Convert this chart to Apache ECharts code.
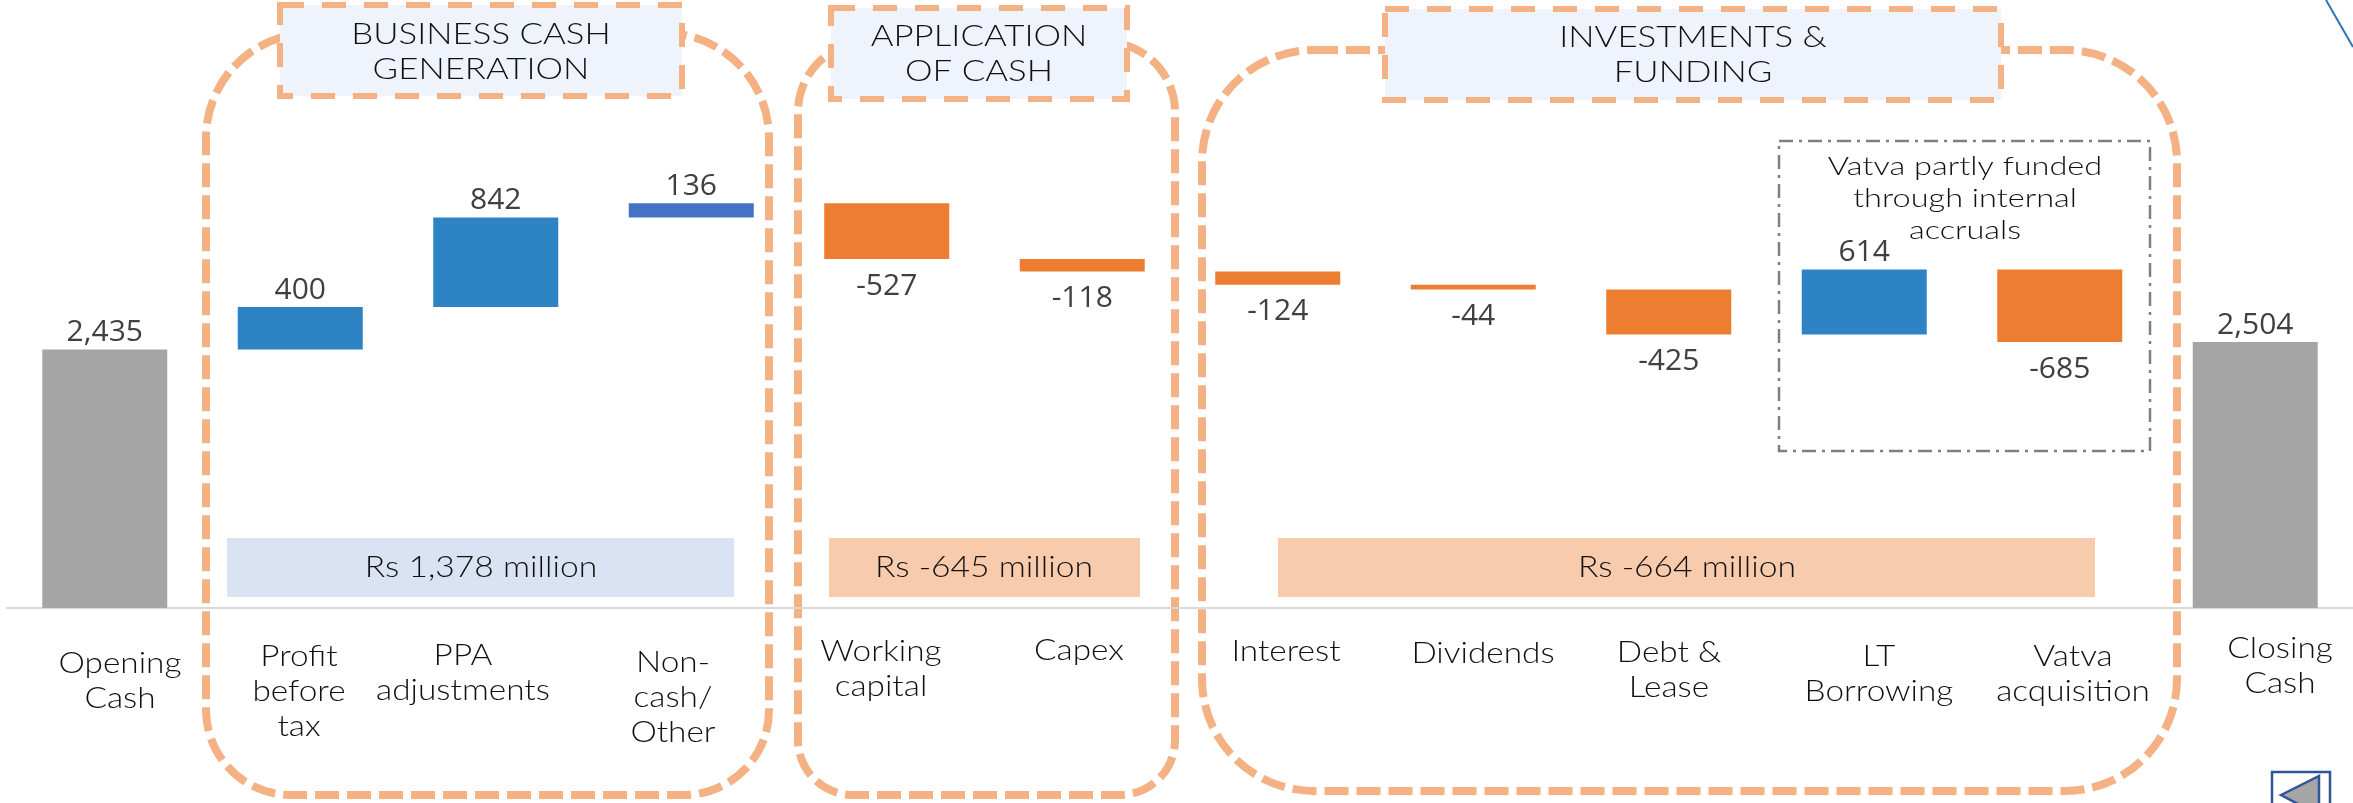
<!DOCTYPE html>
<html>
<head>
<meta charset="utf-8">
<style>
html, body { margin: 0; padding: 0; background: #fff; }
#main { width: 2353px; height: 803px; }
</style>
<script src="https://cdn.jsdelivr.net/npm/echarts@6/dist/echarts.min.js"></script>
</head>
<body>
<div id="main"></div>
<script>
var categories = ['Opening Cash', 'Profit before tax', 'PPA adjustments', 'Non-cash/ Other', 'Working capital', 'Capex',
    'Interest', 'Dividends', 'Debt & Lease', 'LT Borrowing', 'Vatva acquisition', 'Closing Cash'];
var hiddenBase = [0, 2435, 2835, 3677, 3286, 3168, 3044, 3000, 2575, 2575, 2504, 0];
var totals = [2435, null, null, null, null, null, null, null, null, null, null, 2504];
var increases = [null, 400, 842, null, null, null, null, null, null, 614, null, null];
var otherIncreases = [null, null, null, 136, null, null, null, null, null, null, null, null];
var decreases = [null, null, null, null, 527, 118, 124, 44, 425, null, 685, null];

var groupTitles = ['BUSINESS CASH\nGENERATION', 'APPLICATION\nOF CASH', 'INVESTMENTS &\nFUNDING'];
var groupTotals = ['Rs 1,378 million', 'Rs -645 million', 'Rs -664 million'];
var vatvaNote = 'Vatva partly funded\nthrough internal\naccruals';

var catLines = ['Opening\nCash', 'Profit\nbefore\ntax', 'PPA\nadjustments', 'Non-\ncash/\nOther', 'Working\ncapital', 'Capex',
    'Interest', 'Dividends', 'Debt &\nLease', 'LT\nBorrowing', 'Vatva\nacquisition', 'Closing\nCash'];

var textFont = 'Lato';
var numFont = '"Open Sans"';
var orange = '#f4b183';

// the category captions sit off their bars in the original, so they are placed by hand
var catPos = [[120, 681], [299, 692], [463, 673], [673, 698], [881, 669], [1079, 651],
    [1286, 652], [1483, 654], [1669, 670], [1879, 674], [2073, 674], [2280, 666]];

function dashBox(x, y, w, h, r) {
    return {
        type: 'rect',
        shape: { x: x, y: y, width: w, height: h, r: r },
        style: { fill: 'none', stroke: orange, lineWidth: 8, lineDash: [24, 8] }
    };
}

function titleBox(x, y, w, h) {
    return {
        type: 'rect',
        shape: { x: x, y: y, width: w, height: h },
        style: { fill: '#eff3fb', stroke: orange, lineWidth: 6, lineDash: [24, 18] }
    };
}

function band(x, y, w, h, color) {
    return { type: 'rect', shape: { x: x, y: y, width: w, height: h }, style: { fill: color } };
}

// the slide font is wider than anything installed, hence the horizontal stretch
function label(text, x, y, size, lh, stretch) {
    return {
        type: 'text',
        x: x,
        y: y,
        scaleX: stretch,
        style: {
            text: text,
            fill: '#111',
            font: '300 ' + size + 'px ' + textFont,
            lineHeight: lh,
            align: 'center',
            verticalAlign: 'middle'
        }
    };
}

var elements = [
    dashBox(206, 33, 563, 762, [105, 105, 85, 85]),
    dashBox(798, 42, 377, 753, [70, 70, 55, 55]),
    dashBox(1202, 50, 975, 741, 112),
    titleBox(280, 5, 402, 91),
    titleBox(831, 8, 296, 91),
    titleBox(1385, 9, 616, 91),
    label(groupTitles[0], 481, 52, 29, 35, 1.2),
    label(groupTitles[1], 979, 54, 29, 35, 1.2),
    label(groupTitles[2], 1693, 55, 29, 35, 1.2),
    band(227, 538, 507, 59, '#dae3f3'),
    band(829, 538, 311, 59, '#f8cbad'),
    band(1278, 538, 817, 59, '#f8cbad'),
    label(groupTotals[0], 481, 568, 29, 35, 1.16),
    label(groupTotals[1], 984, 568, 29, 35, 1.16),
    label(groupTotals[2], 1687, 568, 29, 35, 1.16),
    {
        type: 'rect',
        shape: { x: 1779, y: 141, width: 371, height: 310 },
        style: { fill: 'none', stroke: '#7f7f7f', lineWidth: 2.5, lineDash: [14, 6, 3, 6] }
    },
    label(vatvaNote, 1965, 199, 26, 32, 1.25),
    // small decorations in the corners of the slide
    {
        type: 'line',
        shape: { x1: 2326, y1: 0, x2: 2353, y2: 47 },
        style: { stroke: '#2e75b6', lineWidth: 2 }
    },
    {
        type: 'rect',
        shape: { x: 2272, y: 772, width: 58, height: 40 },
        style: { fill: '#fff', stroke: '#2f5597', lineWidth: 2.5 }
    },
    {
        type: 'polygon',
        shape: { points: [[2281, 795], [2319, 776], [2319, 815]] },
        style: { fill: '#a5a5a5', stroke: '#2f5597', lineWidth: 2.5 }
    }
];

catLines.forEach(function (t, i) {
    elements.push(label(t, catPos[i][0], catPos[i][1], 29, 35, 1.15));
});

function barSeries(name, data, color, pos, dist, fmt) {
    return {
        name: name,
        type: 'bar',
        stack: 'flow',
        barWidth: 125,
        data: data,
        itemStyle: { color: color },
        label: {
            show: true,
            position: pos,
            distance: dist,
            color: '#404040',
            fontFamily: numFont,
            fontSize: 30,
            formatter: fmt
        }
    };
}

var chart = echarts.init(document.getElementById('main'));
chart.setOption({
    animation: false,
    grid: { left: 7, right: 0, top: 24, bottom: 195 },
    xAxis: {
        type: 'category',
        data: categories,
        axisLine: { lineStyle: { color: '#d9d9d9', width: 2 } },
        axisTick: { show: false },
        axisLabel: { show: false }
    },
    yAxis: {
        type: 'value',
        min: 0,
        max: 5500,
        show: false,
        splitLine: { show: false }
    },
    series: [
        {
            name: 'base',
            type: 'bar',
            stack: 'flow',
            barWidth: 125,
            data: hiddenBase,
            itemStyle: { color: 'transparent' },
            silent: true
        },
        barSeries('Cash', totals, '#a5a5a5', 'top', 2, function (p) {
            return p.value.toLocaleString('en-US');
        }),
        barSeries('Inflow', increases, '#2e83c5', 'top', 2, '{c}'),
        barSeries('Other', otherIncreases, '#4472c4', 'top', 2, '{c}'),
        barSeries('Outflow', decreases, '#ed7d31', 'bottom', 12, '-{c}')
    ],
    graphic: { elements: elements }
});
</script>
</body>
</html>
